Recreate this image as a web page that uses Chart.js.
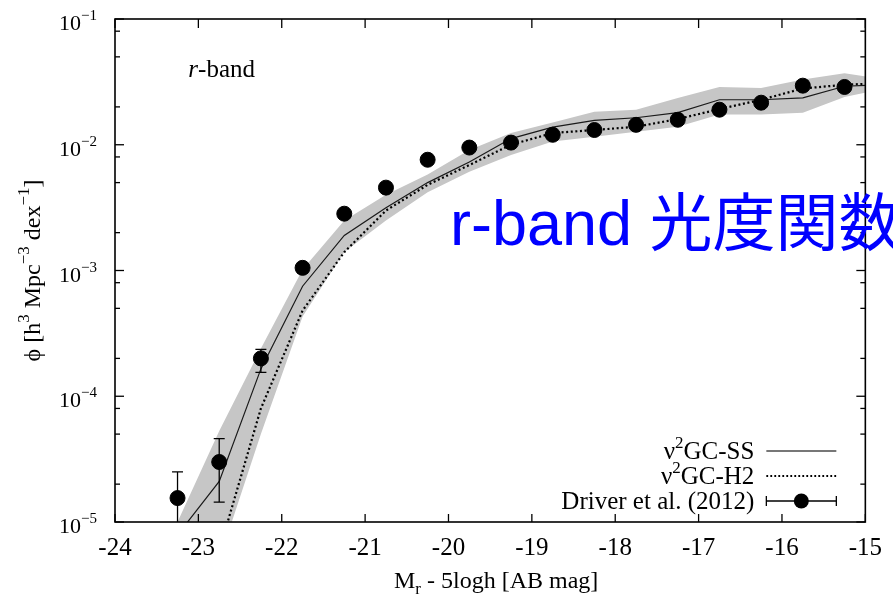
<!DOCTYPE html>
<html>
<head>
<meta charset="utf-8">
<script src="https://cdn.jsdelivr.net/npm/chart.js@4.4.0/dist/chart.umd.min.js"></script>
<style>
html,body{margin:0;padding:0;background:#fff;overflow:hidden;}
#wrap{position:relative;width:893px;height:601px;}
</style>
</head>
<body>
<div id="wrap"><canvas id="c" width="893" height="601"></canvas></div>
<script>
// ---------- data ----------
const modelMag = [-23.25, -22.75, -22.25, -21.75, -21.25, -20.75, -20.25, -19.75, -19.25, -18.75, -18.25, -17.75, -17.25, -16.75, -16.25, -15.75, -15.25, -14.75];
const ssPhi    = [7.9e-6, 2.1e-5, 1.65e-4, 7.5e-4, 1.9e-3, 3.15e-3, 5.0e-3, 7.3e-3, 1.12e-2, 1.38e-2, 1.56e-2, 1.64e-2, 1.8e-2, 2.28e-2, 2.28e-2, 2.36e-2, 2.92e-2, 3.0e-2];
const h2Phi    = [3.0e-6, 5.9e-6, 8.0e-5, 4.8e-4, 1.4e-3, 3.0e-3, 4.8e-3, 6.9e-3, 1.0e-2, 1.24e-2, 1.31e-2, 1.39e-2, 1.6e-2, 1.92e-2, 2.28e-2, 2.8e-2, 3.0e-2, 3.1e-2];
const bandHi   = [1.0e-5, 5.3e-5, 2.4e-4, 1.02e-3, 2.5e-3, 4.0e-3, 5.8e-3, 9.1e-3, 1.24e-2, 1.5e-2, 1.83e-2, 1.9e-2, 2.35e-2, 2.88e-2, 2.83e-2, 3.3e-2, 3.7e-2, 3.3e-2];
const bandLo   = [3.0e-6, 5.0e-6, 5.0e-5, 4.3e-4, 1.4e-3, 2.5e-3, 4.2e-3, 6.1e-3, 8.3e-3, 1.06e-2, 1.16e-2, 1.27e-2, 1.39e-2, 1.74e-2, 1.74e-2, 1.8e-2, 2.4e-2, 2.8e-2];

const obsMag = [-23.25, -22.75, -22.25, -21.75, -21.25, -20.75, -20.25, -19.75, -19.25, -18.75, -18.25, -17.75, -17.25, -16.75, -16.25, -15.75, -15.25];
const obsPhi = [1.55e-5, 3.0e-5, 2.0e-4, 1.05e-3, 2.83e-3, 4.56e-3, 7.6e-3, 9.5e-3, 1.04e-2, 1.2e-2, 1.31e-2, 1.44e-2, 1.58e-2, 1.9e-2, 2.16e-2, 2.95e-2, 2.88e-2];
const obsLo  = [5.0e-6, 1.44e-5, 1.55e-4, 9.6e-4, 2.7e-3, 4.4e-3, 7.4e-3, 9.3e-3, 1.02e-2, 1.18e-2, 1.29e-2, 1.42e-2, 1.55e-2, 1.86e-2, 2.1e-2, 2.85e-2, 2.8e-2];
const obsHi  = [2.5e-5, 4.6e-5, 2.36e-4, 1.14e-3, 2.96e-3, 4.72e-3, 7.8e-3, 9.7e-3, 1.06e-2, 1.22e-2, 1.33e-2, 1.46e-2, 1.61e-2, 1.94e-2, 2.22e-2, 3.05e-2, 2.96e-2];

const xTickValues = [-24, -23, -22, -21, -20, -19, -18, -17, -16, -15];
const yDecades = [-5, -4, -3, -2, -1];
const yMinorMult = [2, 5, 8];
const seriesNames = ['ν²GC-SS', 'ν²GC-H2', 'Driver et al. (2012)'];
const panelLabel = 'r-band';
const overlayText = 'r-band 光度関数';

// ---------- helpers ----------
const SERIF = '"Liberation Serif", "Times New Roman", "DejaVu Serif", serif';
const pts = (xs, ys) => xs.map((x, i) => ({x: x, y: ys[i]}));

function drawRich(ctx, segs, x, y, size, small, align) {
  let w = 0;
  segs.forEach(s => {
    ctx.font = (s.i ? 'italic ' : '') + (s.k ? small : size) + 'px ' + SERIF;
    s.w = ctx.measureText(s.t).width; w += s.w;
  });
  let cx = align === 'right' ? x - w : (align === 'center' ? x - w / 2 : x);
  segs.forEach(s => {
    ctx.font = (s.i ? 'italic ' : '') + (s.k ? small : size) + 'px ' + SERIF;
    const dy = s.k === 'sup' ? -size * 0.45 : (s.k === 'sub' ? size * 0.25 : 0);
    ctx.fillText(s.t, cx, y + dy);
    cx += s.w;
  });
  return w;
}
function labelSegs(str) {
  const out = [];
  str.split('²').forEach((p, i) => { if (i > 0) out.push({t: '2', k: 'sup'}); if (p) out.push({t: p}); });
  return out;
}

// ---------- plugin: frame, inner ticks, y labels, titles, legend, notes ----------
const decor = {
  id: 'decor',
  beforeDatasetDraw(chart, args) {
    if (args.index !== 0) return;
    const {ctx, chartArea: a, scales: {x, y}} = chart;
    ctx.save();
    ctx.beginPath(); ctx.rect(a.left, a.top, a.right - a.left, a.bottom - a.top); ctx.clip();
    ctx.strokeStyle = '#000'; ctx.lineWidth = 1.3;
    obsMag.forEach((m, i) => {
      const px = x.getPixelForValue(m);
      const p1 = y.getPixelForValue(obsLo[i]), p2 = y.getPixelForValue(obsHi[i]);
      ctx.beginPath();
      ctx.moveTo(px, p1); ctx.lineTo(px, p2);
      ctx.moveTo(px - 5.5, p1); ctx.lineTo(px + 5.5, p1);
      ctx.moveTo(px - 5.5, p2); ctx.lineTo(px + 5.5, p2);
      ctx.stroke();
    });
    ctx.restore();
  },
  afterDraw(chart) {
    const {ctx, chartArea: a, scales: {x, y}} = chart;
    ctx.save();
    ctx.strokeStyle = '#000'; ctx.fillStyle = '#000';
    const seg = (x1, y1, x2, y2) => { ctx.beginPath(); ctx.moveTo(x1, y1); ctx.lineTo(x2, y2); ctx.stroke(); };
    ctx.lineWidth = 1.3;
    x.ticks.forEach(t => {
      const px = x.getPixelForValue(t.value);
      seg(px, a.bottom, px, a.bottom - 8);
      seg(px, a.top, px, a.top + 9);
    });
    y.ticks.forEach(t => {
      const py = y.getPixelForValue(t.value);
      const L = t.major ? 9 : 5;
      seg(a.left, py, a.left + L, py);
      seg(a.right, py, a.right - L, py);
    });
    ctx.lineWidth = 1.6;
    ctx.strokeRect(a.left, a.top, a.right - a.left, a.bottom - a.top);

    // y tick labels 10^n
    ctx.textBaseline = 'alphabetic';
    y.ticks.filter(t => t.major).forEach(t => {
      const py = y.getPixelForValue(t.value);
      const n = Math.round(Math.log10(t.value));
      drawRich(ctx, [{t: '10'}, {t: '\u2212' + Math.abs(n), k: 'sup'}], a.left - 18, py + 11, 22, 15, 'right');
    });

    // x title
    drawRich(ctx, [{t: 'M'}, {t: 'r', k: 'sub'}, {t: ' - 5logh [AB mag]'}], (a.left + a.right) / 2 + 6, 588, 24, 17, 'center');

    // y title (rotated)
    ctx.save();
    ctx.translate(40, (a.top + a.bottom) / 2);
    ctx.rotate(-Math.PI / 2);
    drawRich(ctx, [{t: '\u03D5 [h'}, {t: '3', k: 'sup'}, {t: ' Mpc'}, {t: '\u22123', k: 'sup'}, {t: ' dex'}, {t: '\u22121', k: 'sup'}, {t: ']'}], 0, 0, 24, 17, 'center');
    ctx.restore();

    // panel label
    const lx = x.getPixelForValue(-23.12), ly = y.getPixelForValue(0.0347);
    drawRich(ctx, [{t: panelLabel.slice(0, 1), i: true}, {t: panelLabel.slice(1)}], lx, ly, 25, 17, 'left');

    // legend
    const tx = a.right - 111, sx1 = a.right - 99, sx2 = a.right - 29;
    const rows = [a.bottom - 71, a.bottom - 46, a.bottom - 21];
    rows.forEach((ry, i) => {
      drawRich(ctx, labelSegs(seriesNames[i]), tx, ry + 8, 25, 17, 'right');
    });
    // SS sample
    ctx.strokeStyle = '#777'; ctx.lineWidth = 2.2; ctx.setLineDash([]);
    seg(sx1, rows[0], sx2, rows[0]);
    // H2 sample
    ctx.strokeStyle = '#000'; ctx.lineWidth = 1.8; ctx.setLineDash([1.8, 2.2]);
    seg(sx1, rows[1], sx2, rows[1]);
    ctx.setLineDash([]);
    // Driver sample
    ctx.lineWidth = 1.3;
    seg(sx1, rows[2], sx2, rows[2]);
    seg(sx1, rows[2] - 5, sx1, rows[2] + 5);
    seg(sx2, rows[2] - 5, sx2, rows[2] + 5);
    ctx.beginPath(); ctx.arc((sx1 + sx2) / 2, rows[2], 7.5, 0, Math.PI * 2); ctx.fill();

    // overlay annotation (blue)
    ctx.fillStyle = '#0000ff';
    ctx.font = '63px "Liberation Sans", Arial, "Noto Sans CJK JP", sans-serif';
    ctx.textAlign = 'left';
    ctx.fillText(overlayText, 450, 245);
    ctx.restore();
  }
};

new Chart(document.getElementById('c'), {
  type: 'line',
  data: {
    datasets: [
      { label: seriesNames[2], data: pts(obsMag, obsPhi), showLine: false, pointRadius: 7.5, pointHoverRadius: 7.5,
        pointBackgroundColor: '#000', pointBorderColor: '#000', borderColor: '#000', backgroundColor: '#000' },
      { label: seriesNames[0], data: pts(modelMag, ssPhi), borderColor: '#1a1a1a', borderWidth: 1.2, pointRadius: 0, fill: false, tension: 0 },
      { label: seriesNames[1], data: pts(modelMag, h2Phi), borderColor: '#000', borderWidth: 2.2, borderDash: [2, 2.6], pointRadius: 0, fill: false, tension: 0 },
      { label: 'band upper', data: pts(modelMag, bandHi), borderWidth: 0, borderColor: 'rgba(0,0,0,0)', pointRadius: 0, fill: '+1', backgroundColor: '#c6c6c6', tension: 0 },
      { label: 'band lower', data: pts(modelMag, bandLo), borderWidth: 0, borderColor: 'rgba(0,0,0,0)', pointRadius: 0, fill: false, tension: 0 }
    ]
  },
  options: {
    responsive: false,
    animation: false,
    devicePixelRatio: 1,
    layout: { padding: { top: 19, right: 22, left: 0, bottom: 0 } },
    plugins: { legend: { display: false }, tooltip: { enabled: false } },
    scales: {
      x: {
        type: 'linear', min: -24, max: -15,
        afterBuildTicks: s => { s.ticks = xTickValues.map(v => ({value: v})); },
        afterFit: s => { s.height = 79; },
        grid: { display: false, drawTicks: false },
        border: { display: false },
        ticks: { color: '#000', padding: 11, autoSkip: false, maxRotation: 0,
          font: { family: SERIF, size: 25 }, callback: v => String(v) }
      },
      y: {
        type: 'logarithmic', min: 1e-5, max: 1e-1,
        afterBuildTicks: s => {
          const t = [];
          yDecades.forEach(d => {
            t.push({value: Math.pow(10, d), major: true});
            if (d < -1) yMinorMult.forEach(m => t.push({value: m * Math.pow(10, d), major: false}));
          });
          s.ticks = t;
        },
        afterFit: s => { s.width = 115; },
        grid: { display: false, drawTicks: false },
        border: { display: false },
        ticks: { display: false }
      }
    }
  },
  plugins: [decor]
});
</script>
</body>
</html>
